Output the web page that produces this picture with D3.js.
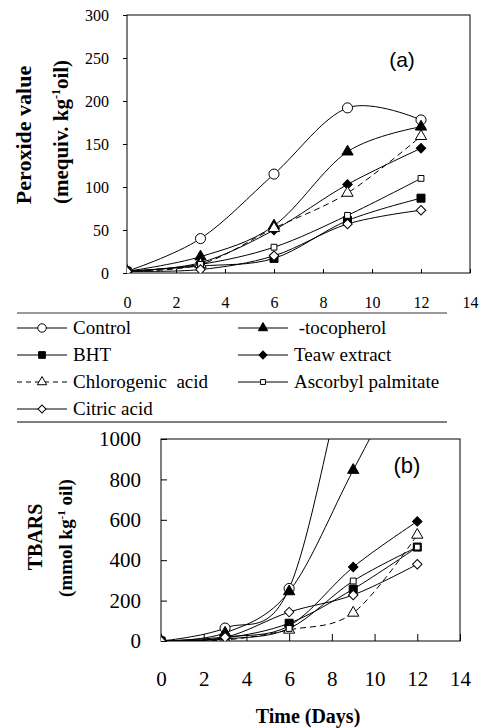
<!DOCTYPE html>
<html>
<head>
<meta charset="utf-8">
<script src="https://cdn.jsdelivr.net/npm/d3@7"></script>
<style>
  body { margin: 0; background: #fff; }
</style>
</head>
<body>
<div id="vis"></div>
<script>
const SERIF = '"Liberation Serif", "Times New Roman", serif';

// sampling days
const days = [0, 3, 6, 9, 12];
const xTicks = [0, 2, 4, 6, 8, 10, 12, 14];
const pvTicks = [0, 50, 100, 150, 200, 250, 300];
const tbTicks = [0, 200, 400, 600, 800, 1000];

const seriesNames = ["Control", " -tocopherol", "BHT", "Teaw extract",
  "Chlorogenic  acid", "Ascorbyl palmitate", "Citric acid"];

// (a) peroxide value
const pvControl = [2, 40, 115, 192, 178];
const pvToco = [2, 19, 55, 141, 170];
const pvBHT = [2, 8, 17, 61, 87];
const pvTeaw = [2, 12, 50, 103, 145];
const pvChloro = [2, 10, 52, 93, 159];
const pvAscorbyl = [2, 10, 30, 67, 110];
const pvCitric = [2, 4, 20, 57, 73];

// (b) TBARS (control and tocopherol run off the top of the plot)
const tbControl = [0, 64, 260, 1500, 2500];
const tbToco = [0, 40, 245, 846, 1450];
const tbBHT = [0, 15, 88, 257, 465];
const tbTeaw = [0, 20, 75, 366, 592];
const tbChloro = [0, 5, 55, 139, 525];
const tbAscorbyl = [0, 10, 62, 297, 465];
const tbCitric = [0, 18, 143, 228, 380];

// marker style for each series, same order as seriesNames
const styles = [
  { sym: d3.symbolCircle, size: 80, fill: "#fff", rot: 0, dash: null },
  { sym: d3.symbolTriangle, size: 55, fill: "#000", rot: 0, dash: null },
  { sym: d3.symbolSquare, size: 64, fill: "#000", rot: 0, dash: null },
  { sym: d3.symbolSquare, size: 45, fill: "#000", rot: 45, dash: null },
  { sym: d3.symbolTriangle, size: 55, fill: "#fff", rot: 0, dash: "6,4" },
  { sym: d3.symbolSquare, size: 34, fill: "#fff", rot: 0, dash: null },
  { sym: d3.symbolSquare, size: 45, fill: "#fff", rot: 45, dash: null }
];

let svg = d3.select('#vis')
  .append('svg')
  .attr('width', 480)
  .attr('height', 728);

function drawPanel(id, seriesList, yDomain, yTicks, xRange, yRange, opt) {
  const x = d3.scaleLinear().domain([0, 14]).range(xRange);
  const y = d3.scaleLinear().domain(yDomain).range(yRange);
  const g = svg.append("g");

  g.append("clipPath").attr("id", "clip" + id)
    .append("rect")
    .attr("x", xRange[0]).attr("y", yRange[1])
    .attr("width", xRange[1] - xRange[0]).attr("height", yRange[0] - yRange[1]);

  // frame
  g.append("rect")
    .attr("x", xRange[0]).attr("y", yRange[1])
    .attr("width", xRange[1] - xRange[0]).attr("height", yRange[0] - yRange[1])
    .attr("fill", "none").attr("stroke", "#000").attr("stroke-width", 1);

  // y axis
  const yAxis = g.append("g")
    .attr("transform", `translate(${xRange[0]},0)`)
    .call(d3.axisLeft(y).tickValues(yTicks).tickFormat(d3.format("d"))
      .tickSize(opt.yTick).tickPadding(opt.yPad))
    .attr("font-family", SERIF).attr("font-size", opt.tickFont);
  yAxis.select(".domain").remove();

  // x axis: ticks point up into the plot, labels sit lower down
  const xAxis = g.append("g")
    .attr("transform", `translate(0,${yRange[0]})`)
    .call(d3.axisBottom(x).tickValues(xTicks).tickSize(-opt.xTick).tickPadding(opt.xPad))
    .attr("font-family", SERIF).attr("font-size", opt.tickFont);
  xAxis.select(".domain").remove();

  const line = d3.line()
    .x((d, i) => x(days[i]))
    .y(d => y(d))
    .curve(d3.curveCardinal.tension(0));

  const plot = g.append("g").attr("clip-path", `url(#clip${id})`);

  seriesList.forEach((vals, k) => {
    plot.append("path")
      .datum(vals)
      .attr("d", line)
      .attr("fill", "none")
      .attr("stroke", "#000")
      .attr("stroke-width", 1)
      .attr("stroke-dasharray", styles[k].dash);
  });

  seriesList.forEach((vals, k) => {
    const s = styles[k];
    plot.selectAll(null)
      .data(vals)
      .enter()
      .append("path")
      .attr("d", d3.symbol().type(s.sym).size(s.size))
      .attr("transform", (d, i) => `translate(${x(days[i])},${y(d)}) rotate(${s.rot})`)
      .attr("fill", s.fill)
      .attr("stroke", "#000")
      .attr("stroke-width", 1);
  });

  return { x, y, g };
}

// panel (a)
const pa = drawPanel("a",
  [pvControl, pvToco, pvBHT, pvTeaw, pvChloro, pvAscorbyl, pvCitric],
  [0, 300], pvTicks, [127, 470], [273, 15],
  { yTick: 4, yPad: 14, xTick: 4, xPad: 24, tickFont: 16 });

pa.g.append("text")
  .attr("x", 402).attr("y", 67)
  .attr("text-anchor", "middle")
  .attr("font-family", '"Liberation Sans", Arial, sans-serif')
  .attr("font-size", 21)
  .text("(a)");

// y label (a)
svg.append("text")
  .attr("transform", "translate(31,135) rotate(-90)")
  .attr("text-anchor", "middle")
  .attr("font-family", SERIF)
  .attr("font-size", 22).attr("font-weight", "bold")
  .text("Peroxide value");
const ya2 = svg.append("text")
  .attr("transform", "translate(68,132) rotate(-90)")
  .attr("text-anchor", "middle")
  .attr("font-family", SERIF)
  .attr("font-size", 21).attr("font-weight", "bold");
ya2.append("tspan").text("(mequiv. kg");
ya2.append("tspan").attr("dy", -8).attr("font-size", 12).text("-1");
ya2.append("tspan").attr("dy", 8).text("oil)");

// legend
const legendRows = [328, 355, 382, 409];
svg.append("line").attr("x1", 17).attr("x2", 447).attr("y1", 313).attr("y2", 313)
  .attr("stroke", "#777").attr("stroke-width", 1.5);
svg.append("line").attr("x1", 17).attr("x2", 447).attr("y1", 422).attr("y2", 422)
  .attr("stroke", "#555").attr("stroke-width", 1.5);

seriesNames.forEach((name, k) => {
  const col = k % 2, row = Math.floor(k / 2);
  const x0 = col === 0 ? 17 : 238;
  const yy = legendRows[row];
  const s = styles[k];
  svg.append("line")
    .attr("x1", x0).attr("x2", x0 + 50).attr("y1", yy).attr("y2", yy)
    .attr("stroke", "#000").attr("stroke-width", 1)
    .attr("stroke-dasharray", s.dash ? "5,4" : null);
  svg.append("path")
    .attr("d", d3.symbol().type(s.sym).size(s.size * 0.7))
    .attr("transform", `translate(${x0 + 25},${yy}) rotate(${s.rot})`)
    .attr("fill", s.fill).attr("stroke", "#000");
  svg.append("text")
    .attr("x", x0 + 56).attr("y", yy + 6)
    .attr("font-family", SERIF)
    .attr("font-size", 19)
    .attr("xml:space", "preserve")
    .style("white-space", "pre")
    .text(name);
});

// panel (b)
const pb = drawPanel("b",
  [tbControl, tbToco, tbBHT, tbTeaw, tbChloro, tbAscorbyl, tbCitric],
  [0, 1000], tbTicks, [161, 460], [641, 439],
  { yTick: -6, yPad: 20, xTick: 7, xPad: 30, tickFont: 21 });

pb.g.append("text")
  .attr("x", 407).attr("y", 473)
  .attr("text-anchor", "middle")
  .attr("font-family", '"Liberation Sans", Arial, sans-serif')
  .attr("font-size", 22)
  .text("(b)");

// y label (b)
svg.append("text")
  .attr("transform", "translate(42,537) rotate(-90)")
  .attr("text-anchor", "middle")
  .attr("font-family", SERIF)
  .attr("font-size", 20).attr("font-weight", "bold")
  .text("TBARS");
const yb2 = svg.append("text")
  .attr("transform", "translate(72,538) rotate(-90)")
  .attr("text-anchor", "middle")
  .attr("font-family", SERIF)
  .attr("font-size", 19).attr("font-weight", "bold");
yb2.append("tspan").text("(mmol kg");
yb2.append("tspan").attr("dy", -7).attr("font-size", 11).text("-1");
yb2.append("tspan").attr("dy", 7).text(" oil)");

// x label (b)
svg.append("text")
  .attr("x", 308).attr("y", 723)
  .attr("text-anchor", "middle")
  .attr("font-family", SERIF)
  .attr("font-size", 20).attr("font-weight", "bold")
  .text("Time (Days)");
</script>
</body>
</html>
